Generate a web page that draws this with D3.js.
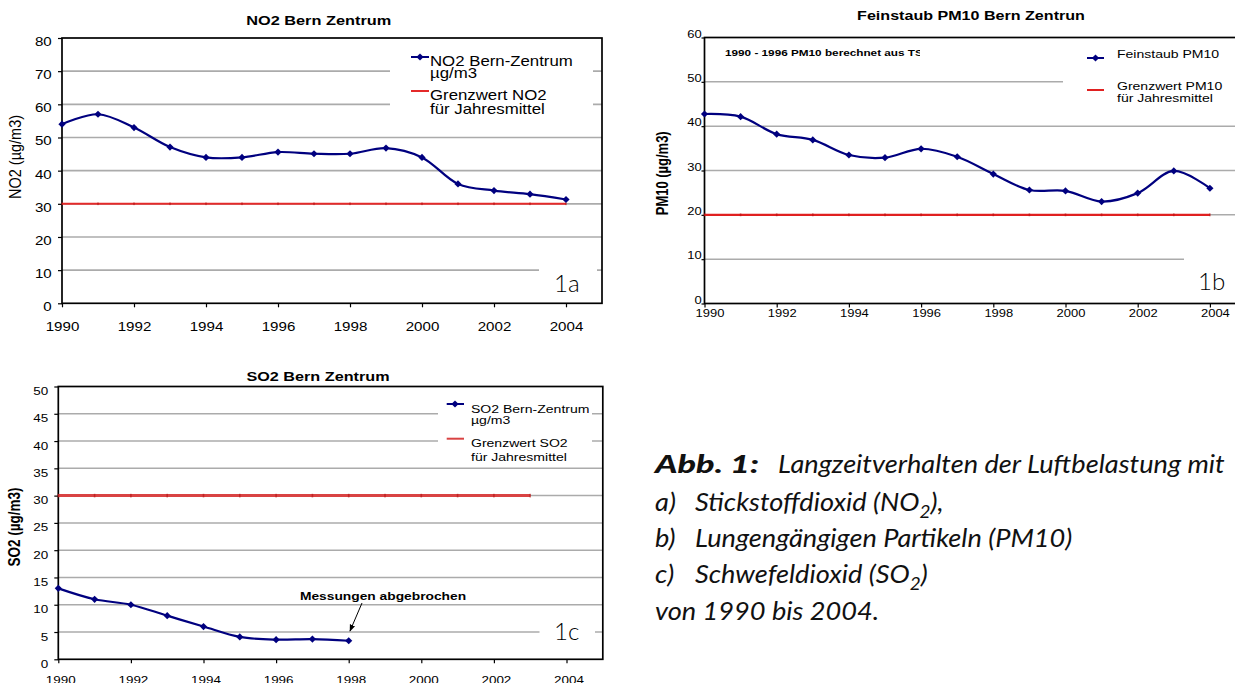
<!DOCTYPE html>
<html><head><meta charset="utf-8">
<script src="https://cdn.jsdelivr.net/npm/d3@7"></script>
<style>html,body{margin:0;padding:0;background:#fff;}svg{display:block;}</style>
</head><body>
<script>
// ---------- DATA ----------
const years = [1990,1991,1992,1993,1994,1995,1996,1997,1998,1999,2000,2001,2002,2003,2004];
const no2 = [54,57,53,47.1,44,44,45.6,45.1,45.1,46.8,44,36,34,32.9,31.3];
const pm10 = [42.75,42.15,38.2,36.9,33.5,32.9,34.9,33.1,29.2,25.6,25.4,23.0,24.9,29.9,26.0];
const so2Years = [1990,1991,1992,1993,1994,1995,1996,1997,1998];
const so2 = [13.0,11.0,10.0,8.0,6.0,4.1,3.6,3.7,3.4];
const no2LimitYears = [1990,1991,1992,1993,1994,1995,1996,1997,1998,1999,2000,2001,2002,2003,2004];
const pm10LimitYears = [1990,1991,1992,1993,1994,1995,1996,1997,1998,1999,2000,2001,2002,2003,2004];
const so2LimitYears = [1990,1991,1992,1993,1994,1995,1996,1997,1998,1999,2000,2001,2002,2003];
const no2Limit = 30, pm10Limit = 20, so2Limit = 30;
const yearTicks = [1990,1992,1994,1996,1998,2000,2002,2004];
const no2Ticks = [0,10,20,30,40,50,60,70,80];
const pm10Ticks = [0,10,20,30,40,50,60];
const so2Ticks = [0,5,10,15,20,25,30,35,40,45,50];

// ---------- SETUP ----------
const W = 1235, H = 683, SX = 1.2;
const FONT = '"Liberation Sans", Arial, Helvetica, sans-serif';
const BLUE = '#00007f';
const svg = d3.select('body').append('svg').attr('width', W).attr('height', H);
svg.append('rect').attr('width', W).attr('height', H).attr('fill', '#fff');

function T(g, x, y, s, o = {}) {
  const t = g.append('text')
    .attr('transform', `translate(${x},${y}) scale(${o.sx ?? SX},1)` + (o.rotate ? ` rotate(${o.rotate})` : ''))
    .attr('font-family', o.family || FONT)
    .attr('font-size', o.size || 12)
    .attr('font-weight', o.weight || 'normal')
    .attr('text-anchor', o.anchor || 'start')
    .attr('fill', o.fill || '#000')
    .text(s);
  if (o.style) t.attr('font-style', o.style);
  return t;
}
const diamond = 'M0,-3.6L3.6,0L0,3.6L-3.6,0Z';

function drawChart(o) {
  const g = svg.append('g');
  const x = d3.scaleLinear().domain([1990, 2005]).range([o.left, o.right]);
  const y = d3.scaleLinear().domain([0, o.ymax]).range([o.bottom, o.top]);
  g.selectAll('line.grid').data(o.yTicks.filter(v => v > 0 && v < o.ymax)).join('line')
    .attr('x1', o.left).attr('x2', o.right).attr('y1', d => y(d)).attr('y2', d => y(d))
    .attr('stroke', '#ababab').attr('stroke-width', o.gridW || 1.5);
  o.boxes.forEach(b => g.append('rect').attr('x', b[0]).attr('y', b[1])
    .attr('width', b[2] - b[0]).attr('height', b[3] - b[1]).attr('fill', '#fff'));
  g.append('rect').attr('x', o.left).attr('y', o.top).attr('width', o.right - o.left)
    .attr('height', o.bottom - o.top).attr('fill', 'none').attr('stroke', '#000').attr('stroke-width', 1.7);
  const ax = g.append('g').attr('transform', `translate(0,${o.bottom})`)
    .call(d3.axisBottom(x).tickValues(yearTicks).tickSize(4).tickFormat(d3.format('d')));
  ax.select('.domain').remove();
  ax.attr('font-family', FONT).attr('font-size', o.xFont);
  ax.selectAll('line').attr('stroke', '#000').attr('stroke-width', 1.2);
  ax.selectAll('text').attr('x', 0).attr('y', 0).attr('dy', 0).attr('fill', '#000')
    .attr('transform', `translate(${o.xLabDx},${o.xLabBase - o.bottom}) scale(${SX},1)`);
  const ay = g.append('g').attr('transform', `translate(${o.left},0)`)
    .call(d3.axisLeft(y).tickValues(o.yTicks).tickSize(o.yTickLen));
  ay.select('.domain').remove();
  ay.attr('font-family', FONT).attr('font-size', o.yFont);
  ay.selectAll('line').attr('stroke', '#000').attr('stroke-width', 1.2);
  ay.selectAll('text').attr('x', 0).attr('y', 0).attr('dy', 0).attr('fill', '#000')
    .attr('transform', `translate(${o.yLabRight - o.left},${o.yLabDy}) scale(${SX},1)`);
  g.append('line').attr('x1', x(o.limitYears[0])).attr('x2', x(o.limitYears[o.limitYears.length - 1]))
    .attr('y1', y(o.limit)).attr('y2', y(o.limit)).attr('stroke', o.red).attr('stroke-width', o.redW);
  g.selectAll('rect.lm').data(o.limitYears).join('rect')
    .attr('x', d => x(d) - 0.8).attr('y', y(o.limit) - o.redW / 2 - 0.3).attr('width', 1.6).attr('height', o.redW + 0.6)
    .attr('fill', '#b31010').attr('opacity', 0.6);
  const line = d3.line().x((d, i) => x(o.xs[i])).y(d => y(d)).curve(d3.curveCatmullRom.alpha(0.5));
  g.append('path').datum(o.values).attr('d', line).attr('fill', 'none')
    .attr('stroke', BLUE).attr('stroke-width', 2.2);
  g.selectAll('path.mk').data(o.values).join('path').attr('class', 'mk')
    .attr('d', diamond).attr('transform', (d, i) => `translate(${x(o.xs[i])},${y(d)})`).attr('fill', BLUE);
  return { g, x, y };
}

// ---------- 1a NO2 ----------
{
  const c = drawChart({
    left: 62, right: 602, top: 38, bottom: 303.3, ymax: 80, yTicks: no2Ticks,
    xFont: 12.6, xLabDx: 0, xLabBase: 330.7, yFont: 12.6, yLabRight: 51.7, yLabDy: 7.4, yTickLen: 4,
    gridW: 1.7, boxes: [[390, 45, 593, 125], [539, 255, 597, 300]],
    limit: no2Limit, limitYears: no2LimitYears, red: '#e42a2a', redW: 2,
    xs: years, values: no2
  });
  const g = c.g;
  T(g, 318.7, 25, 'NO2 Bern Zentrum', { size: 13.6, weight: 'bold', anchor: 'middle' });
  T(g, 20.5, 157, 'NO2  (µg/m3)', { size: 14.5, anchor: 'middle', rotate: -90 });
  g.append('line').attr('x1', 411).attr('x2', 429).attr('y1', 57).attr('y2', 57).attr('stroke', BLUE).attr('stroke-width', 2);
  g.append('path').attr('d', diamond).attr('transform', 'translate(420,57)').attr('fill', BLUE);
  T(g, 430, 66, 'NO2 Bern-Zentrum', { size: 14 });
  T(g, 430, 78, 'µg/m3', { size: 14 });
  g.append('line').attr('x1', 411).attr('x2', 429).attr('y1', 91).attr('y2', 91).attr('stroke', '#e42a2a').attr('stroke-width', 2);
  T(g, 430, 100, 'Grenzwert NO2', { size: 14 });
  T(g, 430, 114, 'für Jahresmittel', { size: 14 });
  T(g, 554, 292.3, '1a', { size: 23, weight: 300, sx: 1.05, family: 'Lato, "Open Sans", sans-serif' });
}

// ---------- 1b PM10 ----------
{
  const c = drawChart({
    left: 704.5, right: 1246, top: 37.5, bottom: 303.5, ymax: 60, yTicks: pm10Ticks,
    xFont: 10.8, xLabDx: 5, xLabBase: 316.7, yFont: 10.8, yLabRight: 701.7, yLabDy: -0.5, yTickLen: 3,
    gridW: 1.5, boxes: [[1063, 40, 1240, 116], [1184, 248, 1240, 299]],
    limit: pm10Limit, limitYears: pm10LimitYears, red: '#e02020', redW: 2.2,
    xs: years, values: pm10
  });
  const g = c.g;
  T(g, 971, 20, 'Feinstaub PM10 Bern Zentrun', { size: 13.4, weight: 'bold', anchor: 'middle' });
  T(g, 668, 173.3, 'PM10  (µg/m3)', { size: 13, weight: 'bold', anchor: 'middle', rotate: -90 });
  svg.append('clipPath').attr('id', 'annClip').append('rect').attr('x', 700).attr('y', 40).attr('width', 220).attr('height', 30);
  T(g.append('g').attr('clip-path', 'url(#annClip)'), 725, 56, '1990 - 1996 PM10 berechnet aus TSP', { size: 9.8, weight: 'bold' });
  g.append('line').attr('x1', 1087).attr('x2', 1104).attr('y1', 58).attr('y2', 58).attr('stroke', BLUE).attr('stroke-width', 2);
  g.append('path').attr('d', diamond).attr('transform', 'translate(1095.5,58)').attr('fill', BLUE);
  T(g, 1117, 57.5, 'Feinstaub PM10', { size: 11.7 });
  g.append('line').attr('x1', 1087).attr('x2', 1104).attr('y1', 90).attr('y2', 90).attr('stroke', '#e02020').attr('stroke-width', 2);
  T(g, 1117, 89.5, 'Grenzwert PM10', { size: 11.7 });
  T(g, 1117, 101.7, 'für Jahresmittel', { size: 11.7 });
  T(g, 1198, 290, '1b', { size: 23, weight: 300, sx: 1.05, family: 'Lato, "Open Sans", sans-serif' });
}

// ---------- 1c SO2 ----------
{
  const c = drawChart({
    left: 58.3, right: 602.8, top: 386.5, bottom: 659.3, ymax: 50, yTicks: so2Ticks,
    xFont: 11.2, xLabDx: 2, xLabBase: 683.5, yFont: 11.2, yLabRight: 48.3, yLabDy: 8, yTickLen: 4,
    gridW: 1.5, boxes: [[438, 394, 592, 466], [539.5, 615, 595, 652]],
    limit: so2Limit, limitYears: so2LimitYears, red: '#d94343', redW: 3,
    xs: so2Years, values: so2
  });
  const g = c.g;
  T(g, 318, 380.7, 'SO2 Bern Zentrum', { size: 13.5, weight: 'bold', anchor: 'middle' });
  T(g, 19.5, 527, 'SO2 (µg/m3)', { size: 13.5, weight: 'bold', anchor: 'middle', rotate: -90 });
  g.append('line').attr('x1', 446.7).attr('x2', 464).attr('y1', 404).attr('y2', 404).attr('stroke', BLUE).attr('stroke-width', 2);
  g.append('path').attr('d', diamond).attr('transform', 'translate(455,404)').attr('fill', BLUE);
  T(g, 471, 413, 'SO2 Bern-Zentrum', { size: 11.7 });
  T(g, 471, 423.5, 'µg/m3', { size: 11.7 });
  g.append('line').attr('x1', 446.7).attr('x2', 464).attr('y1', 438.7).attr('y2', 438.7).attr('stroke', '#d94343').attr('stroke-width', 2);
  T(g, 471, 447.3, 'Grenzwert SO2', { size: 11.7 });
  T(g, 471, 460.7, 'für Jahresmittel', { size: 11.7 });
  T(g, 554, 640, '1c', { size: 23, weight: 300, sx: 1.05, family: 'Lato, "Open Sans", sans-serif' });
  T(g, 383, 600, 'Messungen abgebrochen', { size: 11.5, weight: 'bold', anchor: 'middle' });
  svg.append('defs').append('marker').attr('id', 'arr').attr('viewBox', '0 0 10 10').attr('refX', 9).attr('refY', 5)
    .attr('markerWidth', 7).attr('markerHeight', 7).attr('orient', 'auto')
    .append('path').attr('d', 'M0,1L10,5L0,9Z').attr('fill', '#000');
  g.append('line').attr('x1', 362).attr('y1', 603).attr('x2', 350).attr('y2', 631)
    .attr('stroke', '#000').attr('stroke-width', 1).attr('marker-end', 'url(#arr)');
}

// ---------- Caption ----------
{
  const CF = 'Lato, "Open Sans", "DejaVu Sans", sans-serif';
  const cap = svg.append('g').attr('font-family', CF).attr('font-style', 'italic').attr('fill', '#111').attr('font-size', 24.5);
  const X0 = 655, X1 = 695;
  const ab = cap.append('text').attr('font-weight', 900).text('Abb. 1:');
  const lb = ab.node().getComputedTextLength();
  ab.attr('transform', `translate(${X0},473) scale(${104 / lb},1)`);
  const l1 = cap.append('text').text('Langzeitverhalten der Luftbelastung mit');
  const k = 447 / l1.node().getComputedTextLength();
  l1.attr('transform', `translate(778,473) scale(${k},1)`);
  function line(label, parts, yb) {
    if (label) cap.append('text').attr('transform', `translate(${X0},${yb}) scale(${k},1)`).text(label);
    const t = cap.append('text').attr('transform', `translate(${label ? X1 : X0},${yb}) scale(${k},1)`);
    parts.forEach(p => {
      if (p.sub) t.append('tspan').attr('dy', 7).attr('font-size', 17).text(p.sub);
      else t.append('tspan').attr('dy', p.back ? -7 : 0).text(p.t);
    });
  }
  line('a)', [{ t: 'Stickstoffdioxid (NO' }, { sub: '2' }, { t: '),', back: true }], 511);
  line('b)', [{ t: 'Lungengängigen Partikeln (PM10)' }], 547.3);
  line('c)', [{ t: 'Schwefeldioxid (SO' }, { sub: '2' }, { t: ')', back: true }], 583.3);
  line(null, [{ t: 'von 1990 bis 2004.' }], 620);
}
</script>
</body></html>
